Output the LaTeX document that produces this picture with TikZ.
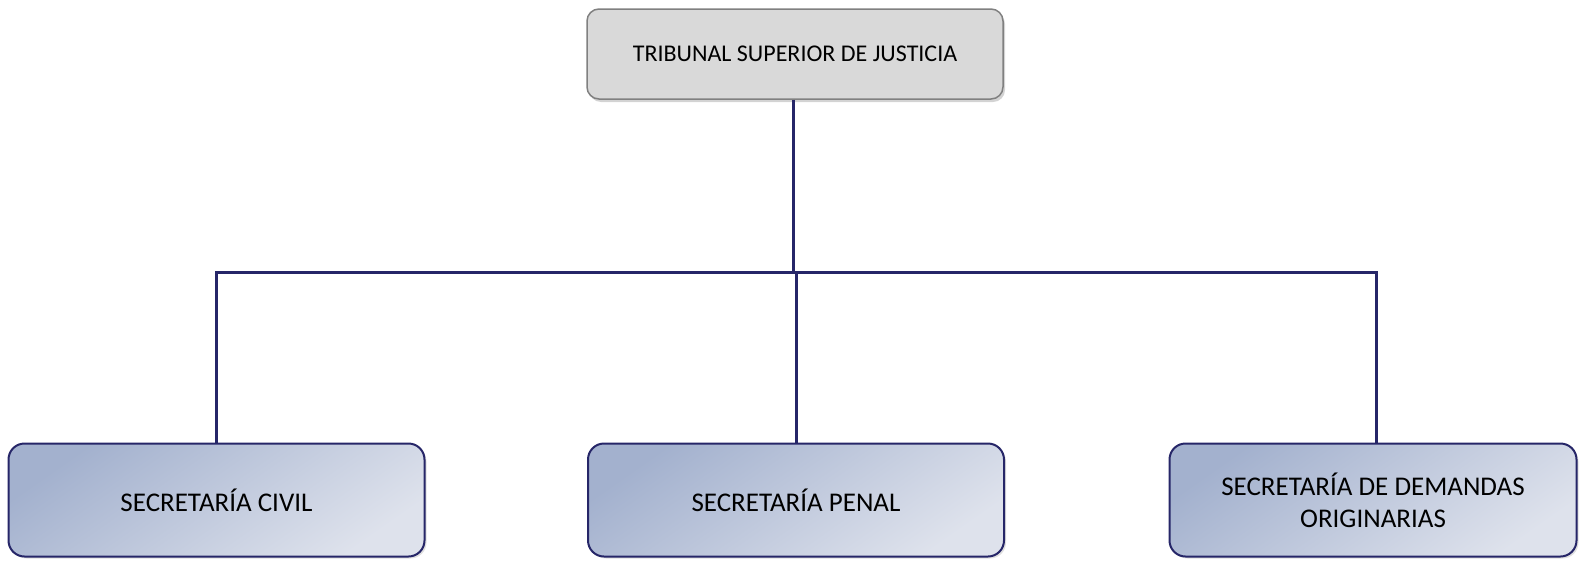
\documentclass[tikz,border=0pt]{standalone}
\usepackage{fontspec}
\setmainfont{Carlito}
\usepackage{tikz}
\usetikzlibrary{shadows}

\definecolor{navyline}{HTML}{262668}
\definecolor{greybox}{HTML}{D9D9D9}
\definecolor{greyedge}{HTML}{808080}
\definecolor{bluetop}{HTML}{A3B1CE}
\definecolor{bluelow}{HTML}{DEE2EC}

\tikzset{
  headbox/.style={rectangle, rounded corners=12pt, draw=greyedge, line width=1.5pt,
    fill=greybox, minimum width=416pt, minimum height=90pt, inner sep=0pt,
    drop shadow={shadow xshift=2pt, shadow yshift=-3pt, opacity=.35},
    font=\fontsize{24}{29}\selectfont},
  unitbox/.style={rectangle, rounded corners=16pt, draw=navyline, line width=2pt,
    left color=bluetop, right color=bluelow, shading angle=35,
    minimum height=113pt, inner sep=0pt, align=center,
    drop shadow={shadow xshift=2pt, shadow yshift=-2pt, opacity=.25},
    font=\fontsize{27}{32}\selectfont},
  link/.style={draw=navyline, line width=3pt}
}

\begin{document}
\begin{tikzpicture}[x=1pt,y=-1pt]
        \useasboundingbox (0,0) rectangle (1579,560);
        \node[headbox] (tsj) at (795,54) {TRIBUNAL SUPERIOR DE JUSTICIA};
        \node[unitbox, minimum width=416pt] (civil) at (216.5,500) {SECRETARÍA CIVIL};
        \node[unitbox, minimum width=416pt] (penal) at (796,500) {SECRETARÍA PENAL};
        \node[unitbox, minimum width=407pt] (orig) at (1373,500) {SECRETARÍA DE DEMANDAS\\ORIGINARIAS};
        \coordinate (bus) at (793,272);
        \draw[link] (tsj.south -| bus) -- (bus);
        \draw[link] (bus) -| (civil.north);
        \draw[link] (bus) -| (penal.north);
        \draw[link] (bus) -| (orig.north -| 1376,0);
        \end{tikzpicture}
\end{document}
